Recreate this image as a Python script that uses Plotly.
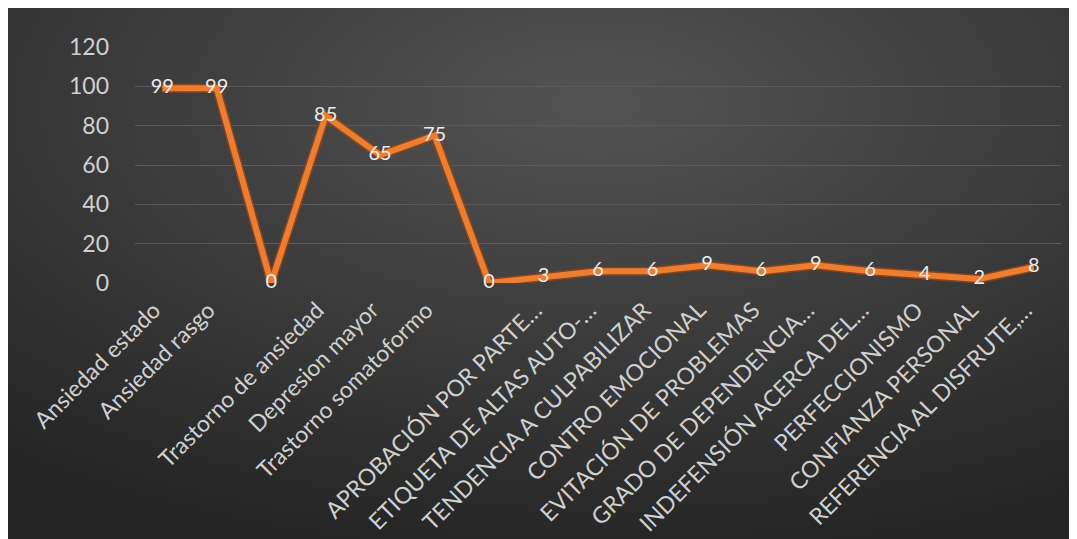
import base64
import plotly.graph_objects as go

# Category labels (two categories have no label in the original chart)
categories = [
    "Ansiedad estado", "Ansiedad rasgo", " ", "Trastorno de ansiedad", "Depresion mayor",
    "Trastorno somatoformo", "  ", "APROBACIÓN POR PARTE…", "ETIQUETA DE ALTAS AUTO-…",
    "TENDENCIA A CULPABILIZAR", "CONTRO EMOCIONAL", "EVITACIÓN DE PROBLEMAS",
    "GRADO DE DEPENDENCIA…", "INDEFENSIÓN ACERCA DEL…", "PERFECCIONISMO",
    "CONFIANZA PERSONAL", "REFERENCIA AL DISFRUTE,…",
]
values = [99, 99, 0, 85, 65, 75, 0, 3, 6, 6, 9, 6, 9, 6, 4, 2, 8]
y_ticks = [0, 20, 40, 60, 80, 100, 120]

FONT = "Lato"
FW, FH = 1069, 531           # figure size (page body margin adds the white border)
L, R, T, B = 127, 1053, 39, 275
W, H = R - L, B - T

svg = (
    f'<svg xmlns="http://www.w3.org/2000/svg" width="{FW}" height="{FH}">'
    '<defs><radialGradient id="g" cx="0.55" cy="0.18" r="0.85">'
    '<stop offset="0" stop-color="#535353"/>'
    '<stop offset="0.55" stop-color="#3a3a3a"/>'
    '<stop offset="1" stop-color="#252525"/>'
    '</radialGradient></defs>'
    f'<rect width="{FW}" height="{FH}" fill="url(#g)"/></svg>'
)
src = "data:image/svg+xml;base64," + base64.b64encode(svg.encode()).decode()

pad = "\u00a0\u00a0"
tick_text = [c + pad if c.strip() else c for c in categories]

fig = go.Figure()
fig.add_trace(go.Scatter(
    x=categories, y=values, mode="lines",
    line=dict(color="rgba(140,70,25,0.9)", width=9),
    hoverinfo="skip", cliponaxis=False, showlegend=False,
))
fig.add_trace(go.Scatter(
    x=categories, y=values, mode="lines+text",
    line=dict(color="#ED7D31", width=6),
    text=[str(v) for v in values], textposition="middle center",
    textfont=dict(family=FONT, size=20, color="#ececec"),
    cliponaxis=False, showlegend=False,
))

fig.update_layout(
    width=FW, height=FH,
    margin=dict(l=L, r=FW - R, t=T, b=FH - B, autoexpand=False),
    paper_bgcolor="#2a2a2a", plot_bgcolor="rgba(0,0,0,0)",
    images=[dict(
        source=src, xref="paper", yref="paper",
        x=-L / W, y=B / H,
        sizex=FW / W, sizey=FH / H,
        xanchor="left", yanchor="top", sizing="stretch", layer="below",
    )],
    xaxis=dict(
        type="category", range=[-0.5, len(categories) - 0.5], tickangle=-45,
        tickmode="array", tickvals=categories, ticktext=tick_text,
        showgrid=False, zeroline=False, showline=False, ticks="",
        automargin=False,
        tickfont=dict(family=FONT, size=23, color="#d0d0d0"),
        ticklabelstandoff=0,
    ),
    yaxis=dict(
        range=[0, 120], tickvals=y_ticks, showgrid=True, automargin=False,
        gridcolor="#5a5a5a", gridwidth=1, zeroline=False, showline=False,
        tickfont=dict(family=FONT, size=23, color="#d0d0d0"),
        ticklabelstandoff=25,
    ),
)

fig.write_html("out.html")
